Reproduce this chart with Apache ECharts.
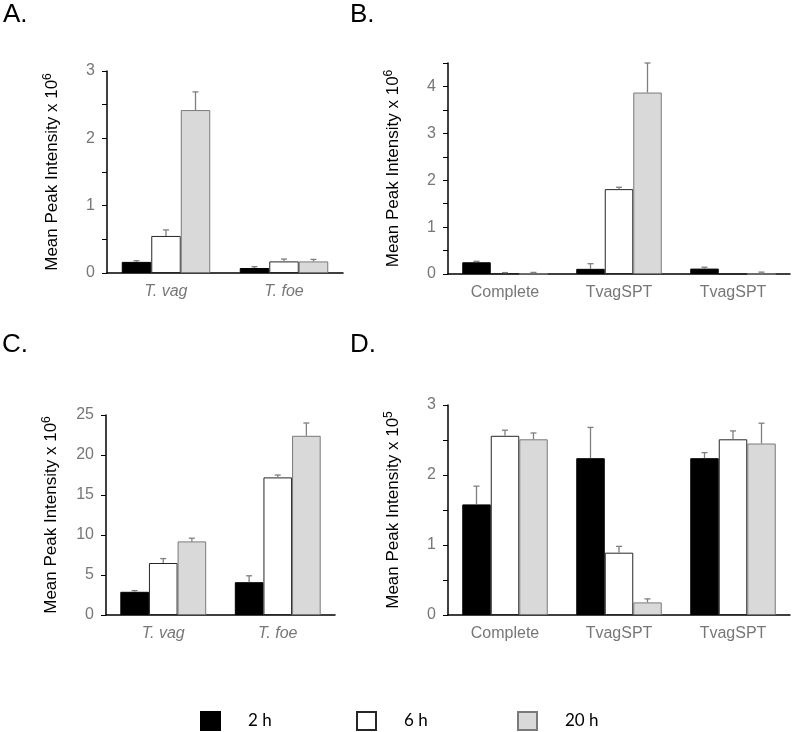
<!DOCTYPE html>
<html>
<head>
<meta charset="utf-8">
<script src="https://cdn.jsdelivr.net/npm/echarts@6/dist/echarts.min.js"></script>
<style>
  html, body { margin: 0; padding: 0; background: #fff; }
  #chart { width: 798px; height: 732px; }
</style>
</head>
<body>
<div id="chart"></div>
<script>
// ---------- data ----------
const seriesNames = ['2 h', '6 h', '20 h'];

const categoriesA = ['T. vag', 'T. foe'];
const a2h = [0.165, 0.074];
const a6h = [0.55, 0.172];
const a20h = [2.42, 0.172];
const aErr2h = [0.017, 0.02];
const aErr6h = [0.09, 0.035];
const aErr20h = [0.27, 0.03];

const categoriesB = ['Complete', 'TvagSPT', 'TvagSPT'];
const b2h = [0.25, 0.11, 0.115];
const b6h = [0.015, 1.81, 0];
const b20h = [0.004, 3.87, 0];
const bErr2h = [0.02, 0.11, 0.03];
const bErr6h = [0.015, 0.04, 0];
const bErr20h = [0.03, 0.63, 0.04];

const categoriesC = ['T. vag', 'T. foe'];
const c2h = [2.9, 4.1];
const c6h = [6.5, 17.2];
const c20h = [9.2, 22.4];
const cErr2h = [0.15, 0.8];
const cErr6h = [0.55, 0.3];
const cErr20h = [0.4, 1.6];

const categoriesD = ['Complete', 'TvagSPT', 'TvagSPT'];
const d2h = [1.58, 2.24, 2.24];
const d6h = [2.56, 0.89, 2.51];
const d20h = [2.51, 0.18, 2.45];
const dErr2h = [0.26, 0.44, 0.08];
const dErr6h = [0.08, 0.09, 0.12];
const dErr20h = [0.09, 0.05, 0.29];

const panelLetters = ['A.', 'B.', 'C.', 'D.'];
const yMax = [3, 4.5, 25, 3];
const yStep = [0.5, 0.5, 5, 0.5];
const yExp = ['6', '6', '6', '5'];

// ---------- styles ----------
const FONT = '"Liberation Sans", Arial, sans-serif';
const LABEL_GREY = '#777777';
const barStyles = [
  { color: '#000000', borderColor: '#000000', borderWidth: 1 },
  { color: '#ffffff', borderColor: '#262626', borderWidth: 1 },
  { color: '#d9d9d9', borderColor: '#7a7a7a', borderWidth: 1 }
];

const panels = [
  { cats: categoriesA, vals: [a2h, a6h, a20h], errs: [aErr2h, aErr6h, aErr20h], italic: true,
    grid: { left: 107, width: 236, top: 71, height: 202 } },
  { cats: categoriesB, vals: [b2h, b6h, b20h], errs: [bErr2h, bErr6h, bErr20h], italic: false,
    grid: { left: 448, width: 342, top: 63, height: 211 } },
  { cats: categoriesC, vals: [c2h, c6h, c20h], errs: [cErr2h, cErr6h, cErr20h], italic: true,
    grid: { left: 106, width: 229, top: 415, height: 200 } },
  { cats: categoriesD, vals: [d2h, d6h, d20h], errs: [dErr2h, dErr6h, dErr20h], italic: false,
    grid: { left: 448, width: 342, top: 405, height: 210 } }
];
const letterPos = [[3, 2], [350, 2], [2, 332], [350, 332]];

const grids = [], xAxes = [], yAxes = [], series = [], titles = [];

panels.forEach((p, pi) => {
  grids.push(Object.assign({ containLabel: false }, p.grid));
  titles.push({
    text: panelLetters[pi], left: letterPos[pi][0], top: letterPos[pi][1], padding: 0,
    textStyle: { fontFamily: FONT, fontSize: 26, fontWeight: 'normal', color: '#000' }
  });
  xAxes.push({
    type: 'category', gridIndex: pi, data: p.cats,
    axisLine: { lineStyle: { color: '#000', width: 1.5 } },
    axisTick: { show: false },
    axisLabel: { color: LABEL_GREY, fontSize: 16, fontFamily: FONT, margin: 11,
      fontStyle: p.italic ? 'italic' : 'normal' }
  });
  yAxes.push({
    type: 'value', gridIndex: pi, min: 0, max: yMax[pi], interval: yStep[pi],
    name: 'Mean Peak Intensity x 10{s|' + yExp[pi] + '}',
    nameLocation: 'middle', nameGap: 45,
    nameTextStyle: { color: '#000', fontSize: 17, fontFamily: FONT, lineHeight: 20,
      rich: { s: { fontSize: 12, fontFamily: FONT, color: '#000', verticalAlign: 'top', lineHeight: 20 } } },
    splitLine: { show: false },
    axisLine: { show: true, lineStyle: { color: '#000', width: 1.5 } },
    axisTick: { show: true, length: 5, lineStyle: { color: '#000', width: 1 } },
    axisLabel: { color: LABEL_GREY, fontSize: 16, fontFamily: FONT, margin: 12,
      formatter: v => (Math.abs(v - Math.round(v)) < 1e-9 ? String(Math.round(v)) : '') }
  });
  seriesNames.forEach((sn, si) => {
    series.push({
      type: 'bar', name: sn, xAxisIndex: pi, yAxisIndex: pi,
      data: p.vals[si], barGap: '0%', barCategoryGap: '25%',
      itemStyle: barStyles[si], emphasis: { disabled: true }, silent: true, z: 2
    });
  });
  const errData = [];
  p.cats.forEach((c, ci) => {
    seriesNames.forEach((sn, si) => {
      errData.push([ci, si, p.vals[si][ci], p.errs[si][ci]]);
    });
  });
  series.push({
    type: 'custom', xAxisIndex: pi, yAxisIndex: pi, data: errData, z: 5, silent: true,
    renderItem: function (params, api) {
      const ci = api.value(0), si = api.value(1), v = api.value(2), e = api.value(3);
      if (!(e > 0)) return null;
      const base = api.coord([ci, v]);
      const top = api.coord([ci, v + e]);
      const cw = api.size([1, 0])[0];
      const x = base[0] + (si - 1) * cw * 0.25;
      const st = { stroke: '#7f7f7f', lineWidth: 1.3 };
      return {
        type: 'group',
        children: [
          { type: 'line', shape: { x1: x, y1: base[1], x2: x, y2: top[1] }, style: st },
          { type: 'line', shape: { x1: x - 3, y1: top[1], x2: x + 3, y2: top[1] }, style: st }
        ]
      };
    }
  });
});

const legendLefts = [200, 356, 517];
const legends = seriesNames.map((sn, i) => ({
  data: [sn], left: legendLefts[i], top: 711, padding: 0,
  icon: 'rect', itemWidth: 19, itemHeight: 18, selectedMode: false,
  formatter: n => '{p|}{t|' + n + '}',
  textStyle: { color: '#000', fontSize: 17, fontFamily: 'Lato, "Open Sans", sans-serif',
    rich: { p: { width: 23 }, t: { fontSize: 17, fontFamily: 'Lato, "Open Sans", sans-serif', color: '#000' } } }
}));

const chart = echarts.init(document.getElementById('chart'), null, { renderer: 'canvas' });
chart.setOption({
  backgroundColor: '#fff',
  animation: false,
  title: titles,
  legend: legends,
  grid: grids,
  xAxis: xAxes,
  yAxis: yAxes,
  series: series
});
</script>
</body>
</html>
